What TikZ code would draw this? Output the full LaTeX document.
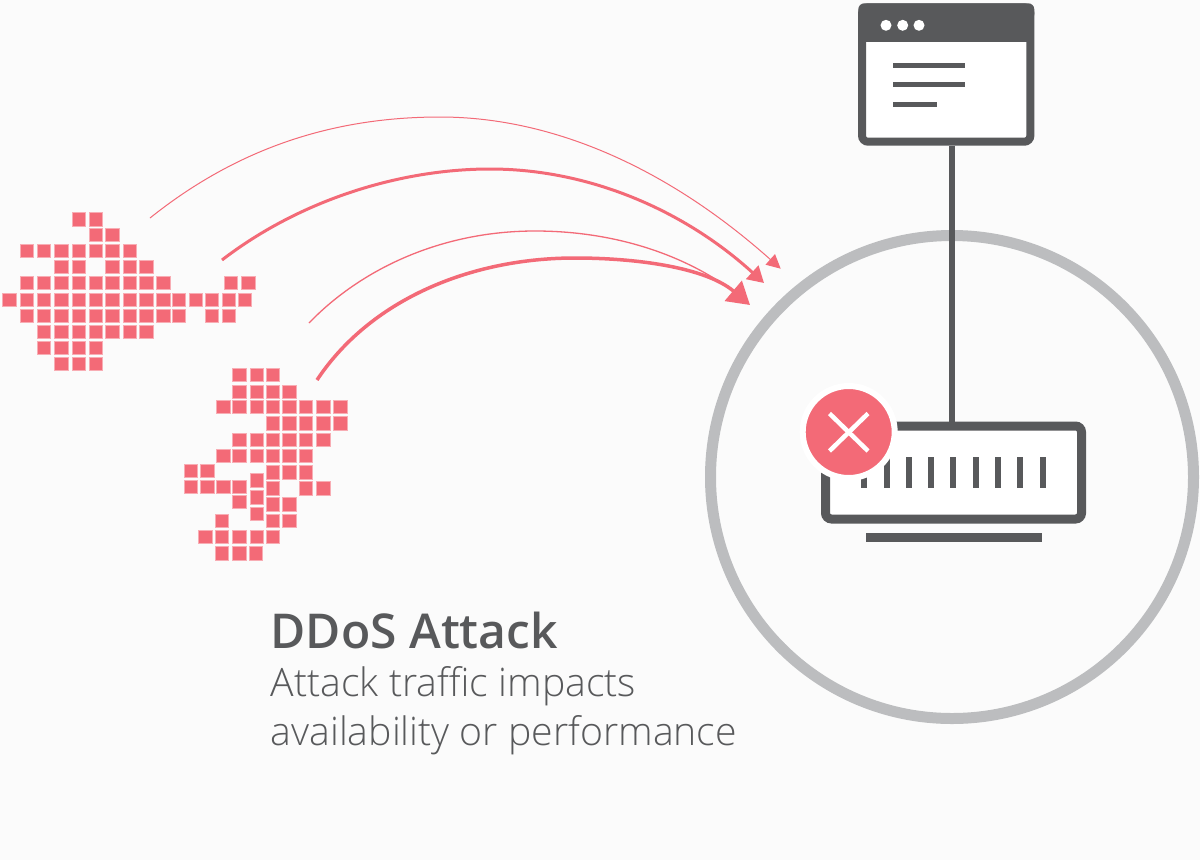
\documentclass[tikz,border=0pt]{standalone}
\usepackage{fontspec}
\setmainfont{Open Sans}
\newfontfamily\lightface{Open Sans Light}
\newfontfamily\boldface{Open Sans Semibold}
\usetikzlibrary{calc, positioning, arrows.meta}
\definecolor{attack}{HTML}{F36A77}
\definecolor{slate}{HTML}{58595B}
\definecolor{ringgray}{HTML}{BCBDBF}
\definecolor{paper}{HTML}{FBFBFB}
\begin{document}
\begin{tikzpicture}[
        x=1pt, y=-1pt,
        pixel/.style={fill=attack, draw=attack!55, line width=0.5pt},
        flow/.style={draw=attack},
        box/.style={rectangle, draw=slate, fill=white, rounded corners=6pt, inner sep=0pt},
        bar/.style={fill=slate},
        heading/.style={font=\boldface\fontsize{48}{50}\selectfont, text=slate, inner sep=0pt, anchor=base west},
        bodyline/.style={font=\lightface\fontsize{39.2}{40}\selectfont, text=slate, inner sep=0pt, anchor=base west}
    ]
    \useasboundingbox[fill=paper] (0,0) rectangle (1200,860);
    % first swarm
    \foreach \y/\xs in {219.3/{78.7,95.7}, 234.7/{95.7,112.3}, 250.7/{26.7,44,61.3,78.7,95.7,112.3,129.7},
        266.7/{61.3,78.7,112.3,129.7,146.3}, 283/{26.7,44,61.3,78.7,95.7,112.3,129.7,146.3,163.3,231,248.3},
        300/{9.3,26.7,44,61.3,78.7,95.7,112.3,129.7,146.3,163.3,179,195.7,212,229,244.7},
        316/{26.7,44,61.3,78.7,95.7,112.3,129.7,146.3,163.3,179,212,229},
        332/{44,61.3,78.7,95.7,112.3,129.7,146.3}, 348/{44,61.3,78.7,95.7}, 364/{61.3,78.7,95.7}}
        \foreach \x in \xs
            \path[pixel] (\x-6.6,\y-6.6) rectangle ++(13.2,13.2);
    % second swarm
    \foreach \y/\xs in {375/{239.3,256.5,273}, 391.7/{239.3,256.5,273,289.3},
        407/{223.3,239.3,256.5,273,289.3,306,323.3,340.3}, 423.3/{273,289.3,306,323.3,340.3},
        439.7/{239.3,256.5,273,289.3,306,323.3}, 456/{223.3,239.3,256.5,273,289.3,306},
        470.7/{191,207.3}, 472.3/{273,289.3,306}, 486.7/{191,207.3,223.3,239.3}, 480.3/{256.5},
        488.3/{273,306,323.3}, 502/{239.3}, 497.3/{256.5}, 504.3/{273,289.3}, 513.7/{256.5},
        520.7/{222,273,289.3}, 537/{205.3,222,239.3,256.5,273}, 553.3/{222,239.3,256}}
        \foreach \x in \xs
            \path[pixel] (\x-6.6,\y-6.6) rectangle ++(13.2,13.2);
    % attack traffic
    \coordinate (srcA) at (150,218);
    \coordinate (srcB) at (222,260);
    \coordinate (srcC) at (309,323);
    \coordinate (srcD) at (317,380);
    \coordinate (hitA) at (780.7,268.7);
    \coordinate (hitB) at (764,283);
    \coordinate (hitC) at (740,296);
    \coordinate (hitD) at (750,305);
    \draw[flow, line width=1pt, -{Triangle[length=14pt,width=14pt]}] (srcA) .. controls (235,150) and (330,117) .. (440,117) .. controls (555,117) and (670,170) .. (hitA);
    \draw[flow, line width=3pt, -{Triangle[length=16pt,width=18pt]}] (srcB) .. controls (300,200) and (400,169) .. (490,169) .. controls (590,169) and (685,211) .. (hitB);
    \draw[flow, line width=1.3pt, -{Triangle[length=8pt,width=8pt]}] (srcC) .. controls (360,270) and (440,231) .. (535,231) .. controls (610,231) and (680,252) .. (hitC);
    \draw[flow, line width=3.5pt, -{Triangle[length=22pt,width=26pt]}] (srcD) .. controls (370,300) and (470,258) .. (575,258) .. controls (635,258) and (705,267) .. (hitD);
    % protected site
    \node[circle, draw=ringgray, line width=11pt, minimum size=483pt, inner sep=0pt] (ring) at (952,477) {};
    \node[box, line width=8pt, minimum width=168.3pt, minimum height=134.4pt] (browser) at (946.2,74.5) {};
    \fill[bar, rounded corners=6pt] (858.3,3.3) rectangle (1034.3,20);
    \fill[bar] (858.3,12) rectangle (1034.3,42);
    \foreach \x in {886,902.7,919}
        \fill[white] (\x,25.3) circle (5.5pt);
    \fill[bar] (893.3,62.5) rectangle (965,67.5);
    \fill[bar] (893.3,82.2) rectangle (965,87.2);
    \fill[bar] (893.3,101.8) rectangle (937.3,106.8);
    \node[box, line width=9pt, minimum width=256pt, minimum height=93pt] (server) at (953.5,472.5) {};
    \coordinate (uplink) at (952,300);
    \draw[slate, line width=6.5pt] (browser.south -| uplink) -- (server.north -| uplink);
    \foreach \x in {864.3,886.7,909,931.3,953.3,976,998.3,1020.3,1042.7}
        \fill[bar] (\x-3,456.7) rectangle (\x+3,488.3);
    \fill[bar] (866,532.7) rectangle (1041.7,542.3);
    % failure badge
    \node[circle, fill=attack, draw=white, line width=6pt, minimum size=92pt, inner sep=0pt] (badge) at (848.7,432) {};
    \draw[white, line width=4.5pt] (829.5,413.5) -- (868,451);
    \draw[white, line width=4.5pt] (868,413.5) -- (829.5,451);
    % caption
    \node[heading] (title) at (270.5,648) {DDoS Attack};
    \node[bodyline] (lineA) at ([yshift=-48pt]title.base west) {Attack traffic impacts};
    \node[bodyline] (lineB) at ([yshift=-49pt]lineA.base west) {availability or performance};
\end{tikzpicture}
\end{document}
